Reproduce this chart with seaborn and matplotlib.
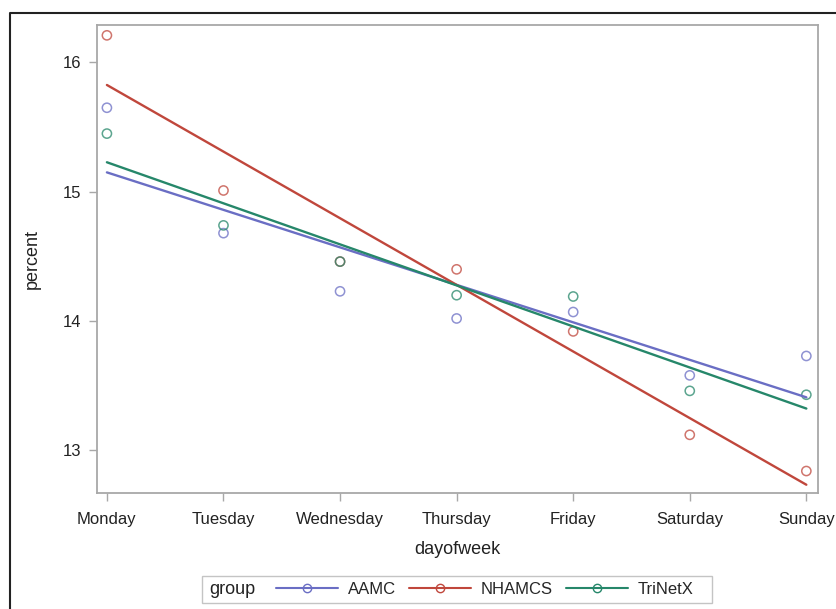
import numpy as np
import pandas as pd
import matplotlib
matplotlib.use('Agg')
import matplotlib.pyplot as plt
from matplotlib.lines import Line2D
from matplotlib.patches import Rectangle
import seaborn as sns

# data
days = ['Monday', 'Tuesday', 'Wednesday', 'Thursday', 'Friday', 'Saturday', 'Sunday']
aamc = [15.65, 14.68, 14.23, 14.02, 14.07, 13.58, 13.73]
nhamcs = [16.21, 15.01, 14.46, 14.40, 13.92, 13.12, 12.84]
trinetx = [15.45, 14.74, 14.46, 14.20, 14.19, 13.46, 13.43]
groups = ['AAMC', 'NHAMCS', 'TriNetX']
colors = {'AAMC': '#6a6ec4', 'NHAMCS': '#c0473c', 'TriNetX': '#26876a'}

df = pd.DataFrame({
    'day': list(range(len(days))) * 3,
    'percent': aamc + nhamcs + trinetx,
    'group': np.repeat(groups, len(days)),
})

sns.set_style('white')
plt.rcParams['font.family'] = ['Liberation Sans', 'DejaVu Sans']

W, H = 837, 609
fig = plt.figure(figsize=(W / 100, H / 100), dpi=100)
ax = fig.add_axes([97 / W, 1 - 493 / H, (818 - 97) / W, (493 - 25) / H])

for g in groups:
    sub = df[df['group'] == g]
    sns.regplot(data=sub, x='day', y='percent', ax=ax, ci=None, truncate=True,
                color=colors[g],
                scatter_kws={'facecolors': 'none', 'edgecolors': colors[g],
                             's': 44, 'linewidths': 1.1, 'alpha': 0.75},
                line_kws={'linewidth': 1.7})

ax.set_xlim(-0.085, 6.1)
ax.set_ylim(12.67, 16.29)
ax.set_xticks(range(len(days)))
ax.set_xticklabels(days)
ax.set_yticks([13, 14, 15, 16])
ax.tick_params(axis='both', direction='out', length=6, width=1, color='#a8a8a8',
               labelsize=12, labelcolor='#222222')
ax.tick_params(axis='x', pad=8)
ax.tick_params(axis='y', pad=5)
ax.tick_params(left=True, bottom=True)
for s in ax.spines.values():
    s.set_color('#a8a8a8')
    s.set_linewidth(1.3)
ax.set_xlabel('dayofweek', fontsize=13, color='#222222', labelpad=10)
ax.set_ylabel('percent', fontsize=13, color='#222222', labelpad=16)

# legend at the bottom, with "group" written inline
handles = [Line2D([], [], color=colors[g], marker='o', markerfacecolor='none',
                  markersize=6, linewidth=1.5) for g in groups]
leg = fig.legend(handles, groups, loc='center', bbox_to_anchor=(485 / W, 1 - 589 / H),
                 ncol=3, frameon=False, fontsize=12, handlelength=3.7, numpoints=1,
                 columnspacing=0.8, handletextpad=0.6)
fig.text(209 / W, 1 - 589 / H, 'group', fontsize=13, va='center', ha='left', color='#222222')
fig.patches.append(Rectangle((202 / W, 1 - 603 / H), (712 - 202) / W, 27 / H,
                             transform=fig.transFigure, fill=False, edgecolor='#c4c4c4',
                             linewidth=1))
# outer frame: only the top and left edges show in the reference
fig.lines.append(Line2D([10 / W, 10 / W, 1], [0, 1 - 13 / H, 1 - 13 / H],
                        transform=fig.transFigure, color='#222222', linewidth=1.5))

plt.savefig('out.png', dpi=100)
